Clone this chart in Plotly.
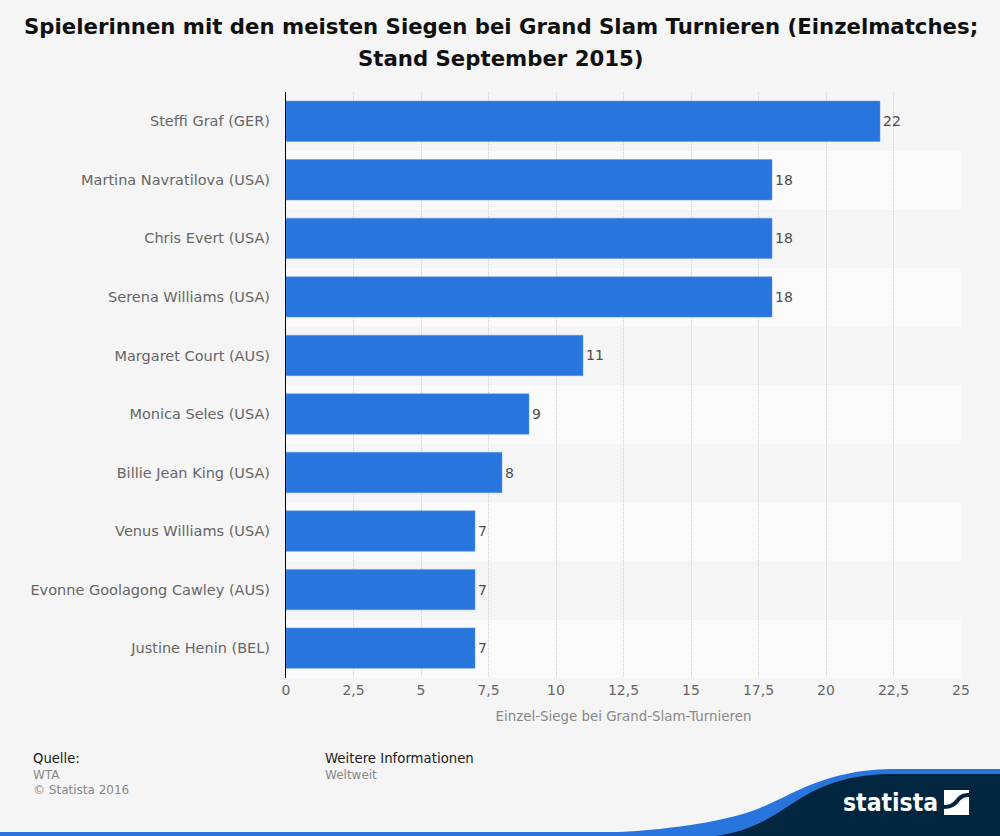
import plotly.graph_objects as go

players = ["Steffi Graf (GER)", "Martina Navratilova (USA)", "Chris Evert (USA)", "Serena Williams (USA)",
           "Margaret Court (AUS)", "Monica Seles (USA)", "Billie Jean King (USA)", "Venus Williams (USA)",
           "Evonne Goolagong Cawley (AUS)", "Justine Henin (BEL)"]
wins = [22, 18, 18, 18, 11, 9, 8, 7, 7, 7]
tick_vals = [0, 2.5, 5, 7.5, 10, 12.5, 15, 17.5, 20, 22.5, 25]
tick_text = ["0", "2,5", "5", "7,5", "10", "12,5", "15", "17,5", "20", "22,5", "25"]

title_lines = ["Spielerinnen mit den meisten Siegen bei Grand Slam Turnieren (Einzelmatches;",
               "Stand September 2015)"]
axis_title = "Einzel-Siege bei Grand-Slam-Turnieren"

FONT = "DejaVu Sans"
BG = "#f5f5f5"
BAND = "#fafafa"
BLUE = "#2975de"
NAVY = "#02263f"

L, R, T, B = 286, 39, 92, 158
W, H = 1000, 836


# page pixels to paper coordinates
def px(x):
    return (x - L) / (W - L - R)


def py(y):
    return 1 - (y - T) / (H - T - B)


def path(points):
    out = ""
    for p in points:
        if len(p) == 2:
            out += f"{'L' if out else 'M'}{px(p[0]):.4f},{py(p[1]):.4f} "
        else:
            out += (f"C{px(p[0]):.4f},{py(p[1]):.4f} {px(p[2]):.4f},{py(p[3]):.4f} "
                    f"{px(p[4]):.4f},{py(p[5]):.4f} ")
    return out + "Z"


fig = go.Figure()
fig.add_trace(go.Bar(
    x=wins, y=players, orientation="h", width=0.69,
    marker=dict(color=BLUE, line=dict(color="#5b96e8", width=0.5)),
    text=wins, textposition="outside", cliponaxis=False,
    textfont=dict(family=FONT, size=14, color="#4d4d4d"),
))

# alternating row bands, they sit a touch lower than the bars
shapes = []
for i in range(1, len(players), 2):
    shapes.append(dict(type="rect", layer="below", xref="x domain", yref="y",
                       x0=0, x1=1, y0=i - 0.49, y1=i + 0.51, fillcolor=BAND, line_width=0))

# footer swoosh
shapes.append(dict(type="rect", xref="paper", yref="paper", x0=px(0), x1=px(1000), y0=py(832), y1=py(836),
                   fillcolor=BLUE, line_width=0, layer="above"))
shapes.append(dict(type="path", xref="paper", yref="paper", fillcolor=BLUE, line_width=0,
                   path=path([(590, 833), (650, 832, 720, 824, 760, 808), (790, 796, 825, 770, 890, 769),
                              (1000, 769), (1000, 836), (590, 836)])))
shapes.append(dict(type="path", xref="paper", yref="paper", fillcolor=NAVY, line_width=0,
                   path=path([(715, 836), (750, 832, 770, 818, 793, 803), (815, 789, 840, 775, 890, 774),
                              (1000, 774), (1000, 836)])))
# statista logo mark
shapes.append(dict(type="path", xref="paper", yref="paper", fillcolor="white", line_width=0,
                   path=path([(944, 790), (969, 790), (969, 793), (963, 793, 959, 795, 956, 799),
                              (953, 803, 950, 805, 944, 805)])))
shapes.append(dict(type="path", xref="paper", yref="paper", fillcolor="white", line_width=0,
                   path=path([(969, 797), (969, 815), (944, 815), (944, 809), (951, 809, 956, 806, 959, 802),
                              (962, 798, 965, 797, 969, 797)])))

notes = [
    dict(x=33, y=758, text="Quelle:", size=13.2, color="#1a1a1a"),
    dict(x=33, y=774.5, text="WTA", size=12, color="#888888"),
    dict(x=33, y=790, text="© Statista 2016", size=12, color="#888888"),
    dict(x=325, y=758, text="Weitere Informationen", size=13.3, color="#1a1a1a"),
    dict(x=325, y=774.5, text="Weltweit", size=12, color="#888888"),
]
annotations = [dict(x=px(n["x"]), y=py(n["y"]), xref="paper", yref="paper", text=n["text"], showarrow=False,
                    xanchor="left", yanchor="middle", xshift=-2,
                    font=dict(family=FONT, size=n["size"], color=n["color"])) for n in notes]
for line, y in zip(title_lines, [26, 58]):
    annotations.append(dict(x=px(501), y=py(y), xref="paper", yref="paper", text="<b>" + line + "</b>",
                            showarrow=False, xanchor="center", yanchor="middle",
                            font=dict(family=FONT, size=21.25, color="#111111")))
annotations.append(dict(x=px(890), y=py(802), xref="paper", yref="paper", text="<b>statista</b>", showarrow=False,
                        xanchor="center", yanchor="middle",
                        font=dict(family="DejaVu Sans Condensed, Liberation Sans", size=24.5, color="white")))

fig.update_layout(
    width=W, height=H,
    margin=dict(l=L, r=R, t=T, b=B, autoexpand=False),
    paper_bgcolor=BG, plot_bgcolor=BG,
    showlegend=False,
    shapes=shapes, annotations=annotations,
    xaxis=dict(range=[0, 25], tickvals=tick_vals, ticktext=tick_text, side="bottom",
               showgrid=True, gridcolor="#d0d0d0", griddash="1px,1px", gridwidth=1, zeroline=False,
               showline=False, ticks="", ticklabelstandoff=2, tickfont=dict(family=FONT, size=14, color="#666666"),
               title=dict(text=axis_title, font=dict(family=FONT, size=13.4, color="#888888"), standoff=14)),
    yaxis=dict(categoryorder="array", categoryarray=players, autorange="reversed",
               showgrid=False, zeroline=False, showline=True, linecolor="#000000", linewidth=1.2,
               ticks="", ticklabelstandoff=12, tickfont=dict(family=FONT, size=14.5, color="#666666")),
)

fig.write_html("out.html", config={"displayModeBar": False}, post_script="document.body.style.margin='0';")
